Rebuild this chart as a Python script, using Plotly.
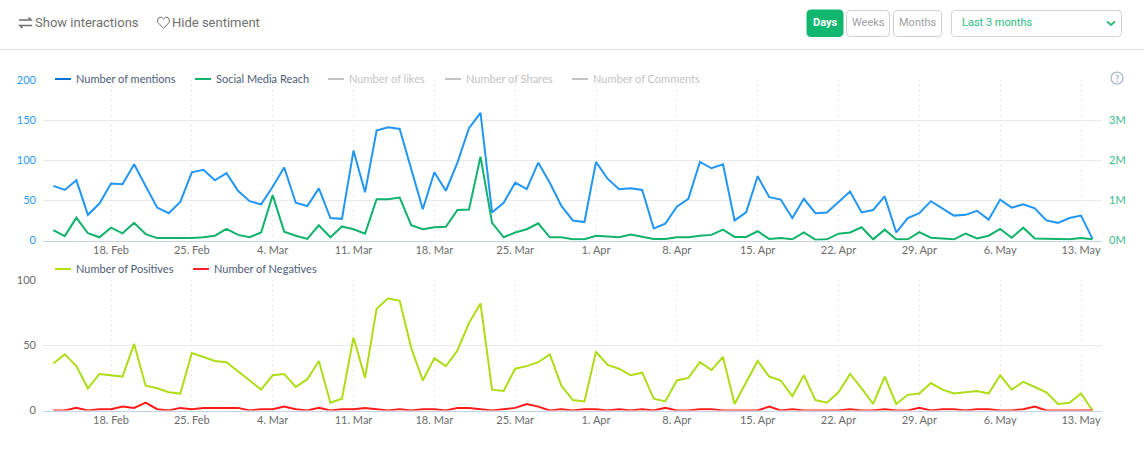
import plotly.graph_objects as go
import pandas as pd

dates = pd.date_range("2019-02-13", "2019-05-14", freq="D")
mentions = [68,63,75,32,46,71,70,95,68,41,34,48,85,88,75,84,62,49,45,67,91,47,43,65,28,27,112,60,137,
            141,139,88,39,85,62,97,140,159,35,47,72,64,97,72,43,25,23,98,77,64,65,63,15,21,42,52,98,90,95,25,35,
            80,54,51,28,52,34,35,48,61,35,38,55,10,28,34,49,40,31,32,37,26,51,41,45,40,25,22,28,31,2]
reach = [.26,.11,.57,.18,.08,.32,.18,.44,.16,.06,.06,.06,.06,.08,.12,.29,.14,.08,.2,1.13,.22,.12,.04,.38,.08,.35,.28,.17,1.03,
         1.03,1.07,.38,.28,.33,.34,.76,.77,2.09,.44,.08,.2,.28,.43,.08,.08,.03,.03,.12,.1,.08,.15,.09,.04,.04,.08,.08,.12,.14,.27,.09,.09,
         .23,.04,.06,.03,.2,.02,.03,.17,.2,.33,.03,.27,.03,.03,.21,.07,.05,.03,.17,.05,.12,.29,.07,.32,.05,.04,.03,.03,.06,.03]
positives = [36,43,34,17,28,27,26,51,19,17,14,13,44,41,38,37,30,23,16,27,28,18,24,38,6,9,56,25,78,
             86,84,48,23,40,34,46,67,82,16,15,32,34,37,43,19,8,7,45,35,32,27,29,9,7,23,25,37,31,41,5,22,
             38,26,23,11,27,8,6,14,28,17,5,26,5,12,13,21,16,13,14,15,13,27,16,22,18,14,5,6,13,0]
negatives = [0,0,2,0,1,1,3,2,6,1,0,2,1,2,2,2,2,0,1,1,3,1,0,2,0,1,1,2,1,
             0,1,0,1,1,0,2,2,1,0,1,2,5,3,0,1,0,1,1,0,1,0,1,0,2,0,0,1,1,0,0,0,
             0,3,0,1,0,0,0,0,1,0,0,1,0,0,2,0,1,1,0,1,1,0,0,1,3,0,0,0,0,0]
assert all(len(s) == len(dates) for s in (mentions, reach, positives, negatives))
reach_abs = [v * 1e6 for v in reach]

W, H = 1144, 458
L, R = 43, 1102
px = lambda x: x / W
py = lambda y: 1 - y / H

C_BLUE, C_GREEN, C_LIME, C_RED = "#2196f3", "#10b26c", "#aedd17", "#ff1a1a"
fig = go.Figure()
line = lambda c: dict(color=c, width=2, shape="linear")
fig.add_scatter(x=dates, y=mentions, mode="lines", line=line(C_BLUE), name="Number of mentions", xaxis="x", yaxis="y", cliponaxis=False)
fig.add_scatter(x=dates, y=reach_abs, mode="lines", line=line(C_GREEN), name="Social Media Reach", xaxis="x", yaxis="y2", cliponaxis=False)
fig.add_scatter(x=dates, y=positives, mode="lines", line=line(C_LIME), name="Number of Positives", xaxis="x2", yaxis="y3", cliponaxis=False)
fig.add_scatter(x=dates, y=negatives, mode="lines", line=line(C_RED), name="Number of Negatives", xaxis="x2", yaxis="y3", cliponaxis=False)

# x range chosen so that 18 Feb lands on px 111 and 13 May on px 1081
t0 = pd.Timestamp("2019-02-18")
per = (1081 - 111) / 84
xr = [t0 + pd.Timedelta(days=(L - 111) / per), t0 + pd.Timedelta(days=(R - 111) / per)]
xcommon = dict(range=xr, tick0="2019-02-18", dtick=7 * 86400000, tickformat="%-d. %b", showline=True,
               linecolor="#c3d3e3", linewidth=1, showgrid=True, gridcolor="#d8d8d8", griddash="1px,4px", gridwidth=1,
               tickfont=dict(family="Lato", size=11, color="#6b6b6b"), zeroline=False, ticks="", ticklabelstandoff=-1)
ycommon = dict(showgrid=True, gridcolor="#e9e9e9", gridwidth=1, zeroline=False, showline=False, ticks="")
dom_x = [px(L), px(R)]
fig.update_layout(
    width=W, height=H, margin=dict(l=0, r=0, t=0, b=0, autoexpand=False), autosize=False, showlegend=False,
    paper_bgcolor="white", plot_bgcolor="white",
    xaxis=dict(domain=dom_x, anchor="y", **xcommon),
    xaxis2=dict(domain=dom_x, anchor="y3", **xcommon),
    yaxis=dict(domain=[py(240.5), py(80)], range=[0, 200], dtick=50, ticklabelstandoff=6,
               tickfont=dict(family="Lato", size=11, color="#2a9bf0"), **ycommon),
    yaxis2=dict(domain=[py(240.5), py(80)], range=[0, 4e6], overlaying="y", side="right", anchor="x",
                tickvals=[0, 1e6, 2e6, 3e6], ticktext=["0M", "1M", "2M", "3M"], ticklabelstandoff=6,
                tickfont=dict(family="Lato", size=11, color="#3dba8e"), **{**ycommon, "showgrid": False}),
    yaxis3=dict(domain=[py(410.5), py(280)], range=[0, 100], dtick=50, anchor="x2", ticklabelstandoff=6,
                tickfont=dict(family="Lato", size=11, color="#6b6b6b"), **ycommon),
)

shapes, ann = [], []
def rect(x0, y0, x1, y1, fill="white", line_c=None, layer="between"):
    shapes.append(dict(type="rect", xref="paper", yref="paper", x0=px(x0), x1=px(x1), y0=py(y1), y1=py(y0),
                       fillcolor=fill, line=dict(width=0 if line_c is None else 1, color=line_c or fill), layer=layer))
def svg(points, color, width=1.2, fill="rgba(0,0,0,0)"):
    d = " ".join(("M" if i == 0 else "L") + f" {px(a):.5f} {py(b):.5f}" for i, (a, b) in enumerate(points))
    shapes.append(dict(type="path", xref="paper", yref="paper", path=d, line=dict(color=color, width=width), fillcolor=fill))
def rrect(x0, y0, x1, y1, r, fill, border):
    d = (f"M {x0+r} {y0} L {x1-r} {y0} Q {x1} {y0} {x1} {y0+r} L {x1} {y1-r} Q {x1} {y1} {x1-r} {y1} "
         f"L {x0+r} {y1} Q {x0} {y1} {x0} {y1-r} L {x0} {y0+r} Q {x0} {y0} {x0+r} {y0} Z")
    toks, out, isx = d.split(), [], True
    for t in toks:
        if t.isalpha():
            out.append(t); isx = True
        else:
            out.append(f"{px(float(t)):.5f}" if isx else f"{py(float(t)):.5f}"); isx = not isx
    shapes.append(dict(type="path", xref="paper", yref="paper", path=" ".join(out), fillcolor=fill, line=dict(color=border, width=1)))
def text(x, y, s, color, size=12, family="Lato", anchor="left", weight=None):
    ann.append(dict(xref="paper", yref="paper", x=px(x), y=py(y), text=s, showarrow=False, xanchor=anchor, yanchor="middle",
                    font=dict(family=family, size=size, color=color, weight=weight), borderpad=0, borderwidth=0))

# legend backdrops that hide the grid
rect(46, 69, 705, 88)
rect(705, 81, R + 1, 84)
rect(L, 281, R + 1, 284)

# header
shapes.append(dict(type="line", xref="paper", yref="paper", x0=0, x1=1, y0=py(49.5), y1=py(49.5), line=dict(color="#e4e4e4", width=1)))
GREY = "#6f6f6f"
text(34.8, 22.5, "Show interactions", GREY, 13, "Roboto")
text(172.3, 22.5, "Hide sentiment", GREY, 13, "Roboto")
svg([(19, 20), (31, 20), (28.5, 17.5)], GREY, 1.6)
svg([(32, 25.5), (20, 25.5), (22.5, 28)], GREY, 1.6)
svg([(163.5, 28.5), (158, 22.5), (157.5, 20), (159, 17.5), (161.5, 17.2), (163.5, 19), (165.5, 17.2), (168, 17.5), (169.5, 20), (169, 22.5), (163.5, 28.5)], GREY, 1)

rrect(807, 10, 843, 36.5, 4, "#12b76f", "#12b76f")
rrect(846.5, 10.5, 889.5, 36.5, 4, "white", "#cfcfcf")
rrect(893.5, 10.5, 941.5, 36.5, 4, "white", "#cfcfcf")
rrect(951.5, 10.5, 1121.5, 36.5, 4, "white", "#d2d2d2")
text(825, 23, "Days", "white", 11, "Roboto", "center", 700)
text(868, 23, "Weeks", "#a0a0a0", 11, "Roboto", "center")
text(917.5, 23, "Months", "#a0a0a0", 11, "Roboto", "center")
text(962, 23, "Last 3 months", "#2dbb7e", 11, "Roboto")
svg([(1107, 21.5), (1111, 25), (1115, 21.5)], "#2dbb7e", 2)

# legends
TXT = "#4d5c78"
OFF = "#c4c4c4"
def key(x, y, c, label, tc):
    svg([(x, y), (x + 16, y)], c, 2)
    text(x + 21, y - 0.5, label, tc, 11)
key(55, 79, "#0a72d2", "Number of mentions", TXT)
key(195, 79, "#10b26c", "Social Media Reach", TXT)
key(328, 79, OFF, "Number of likes", OFF)
key(445, 79, OFF, "Number of Shares", OFF)
key(572, 79, OFF, "Number of Comments", OFF)
key(55, 269, "#b4e00f", "Number of Positives", TXT)
key(193, 269, "#ff1f2d", "Number of Negatives", TXT)

# help icon
shapes.append(dict(type="circle", xref="paper", yref="paper", x0=px(1111), x1=px(1123), y0=py(84), y1=py(72), line=dict(color="#aab5c4", width=1.2)))
text(1117, 78, "?", "#aab5c4", 9.5, "Lato", "center", 700)

fig.update_layout(shapes=shapes, annotations=ann)
fig.write_html("out.html", config={"displayModeBar": False},
               post_script="document.body.style.margin='0';document.body.style.overflow='hidden';")
